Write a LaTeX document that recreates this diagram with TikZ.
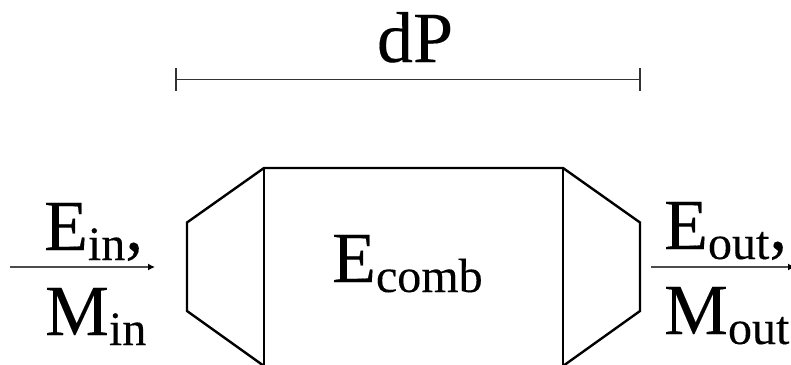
\documentclass[tikz,border=0pt]{standalone}
\usepackage{fontspec}
\setmainfont[FakeBold=0.2]{Liberation Serif}
\usetikzlibrary{arrows.meta}
\newcommand{\bigE}[3]{{\fontsize{72}{72}\selectfont #1}{\fontsize{48}{48}\selectfont\raisebox{-10pt}{#2}}{\fontsize{72}{72}\selectfont #3}}
\tikzset{
  body/.style={line width=2.4pt,line join=miter,black},
  flow/.style={line width=1.2pt,black!70,-{Latex[length=7pt,width=7pt,black]}},
  span/.style={line width=1.2pt,black!80},
  lbl/.style={anchor=base west,inner sep=0pt,outer sep=0pt}
}
\begin{document}
\begin{tikzpicture}[x=1pt,y=-1pt]
\useasboundingbox (0,0) rectangle (791,364);
\clip (0,0) rectangle (791,364);
% body
\coordinate (tl) at (264,168);
\coordinate (tr) at (563,168);
\coordinate (bl) at (264,366);
\coordinate (br) at (563,366);
\coordinate (la) at (187,222.5);
\coordinate (lb) at (187,311);
\coordinate (ra) at (640,222.5);
\coordinate (rb) at (640,311);
\draw[body] (bl) -- (lb) -- (la) -- (tl) -- (tr) -- (ra) -- (rb) -- (br);
\draw[body] (tl) -- (bl);
\draw[body] (tr) -- (br);
% flows
\coordinate (i0) at (10,267);
\coordinate (i1) at (155,267);
\coordinate (o0) at (651,267);
\coordinate (o1) at (795,267);
\draw[flow] (i0) -- (i1);
\draw[flow] (o0) -- (o1);
% span
\coordinate (s0) at (176,79.5);
\coordinate (s1) at (640,79.5);
\coordinate (s0a) at (176,68);
\coordinate (s0b) at (176,91);
\coordinate (s1a) at (640,68);
\coordinate (s1b) at (640,91);
\draw[span] (s0) -- (s1);
\draw[span] (s0a) -- (s0b);
\draw[span] (s1a) -- (s1b);
% labels
\node[lbl] (dp) at (377,62) {\fontsize{72}{72}\selectfont dP};
\node[lbl] (ein) at (44,250) {\bigE{E}{in}{,}};
\node[lbl] (min) at (45,335) {\bigE{M}{in}{}};
\node[lbl] (eout) at (664,249) {\bigE{E}{out}{,}};
\node[lbl] (mout) at (664,334) {\bigE{M}{out}{}};
\node[lbl] (ecomb) at (332,282) {\bigE{E}{comb}{}};
\end{tikzpicture}
\end{document}
